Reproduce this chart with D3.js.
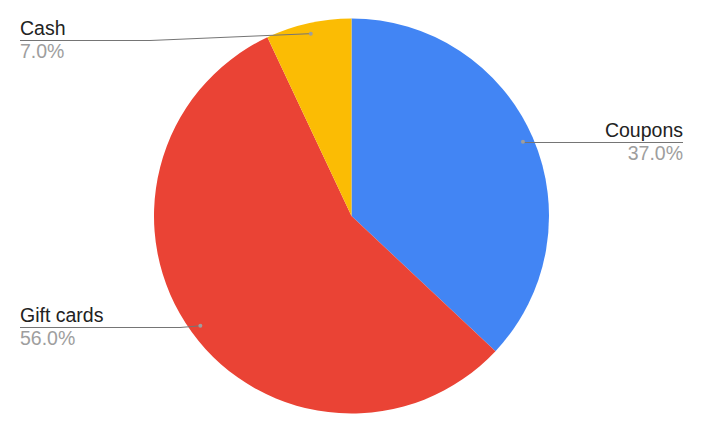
<!DOCTYPE html>
<html lang="en">
  <head>
    <meta charset="UTF-8" />
    <title>Pie chart</title>
    <script src="https://cdn.jsdelivr.net/npm/d3@7"></script>
    <style>
      body { margin: 0; background: #fff; }
      text { font-family: "Liberation Sans", Arial, sans-serif; }
    </style>
  </head>
  <body>
    <script>
      let categories = ["Coupons", "Gift cards", "Cash"];
      let values = [37, 56, 7];
      let colors = ["#4285f4", "#ea4335", "#fbbc04"];

      let width = 701, height = 435;
      let cx = 351.5, cy = 216, radius = 197.5;

      let svg = d3
        .select("body")
        .append("svg")
        .attr("width", width)
        .attr("height", height);

      let total = d3.sum(values);
      let pie = d3.pie().sort(null).value(function (d) { return d; });
      let arcs = pie(values);
      let arc = d3.arc().innerRadius(0).outerRadius(radius);
      let anchorArc = d3.arc().innerRadius(radius * 0.946).outerRadius(radius * 0.946);

      let g = svg.append("g").attr("transform", "translate(" + cx + "," + cy + ")");

      g.selectAll("path")
        .data(arcs)
        .enter()
        .append("path")
        .attr("d", arc)
        .attr("fill", function (d, i) { return colors[i]; });

      // label placement: line height and elbow for each slice
      let labelY = [142.5, 327.5, 40.5];
      let elbowX = [523, 180, 150];

      arcs.forEach(function (d, i) {
        let p = anchorArc.centroid(d);
        let ax = cx + p[0], ay = cy + p[1];
        let right = ax > cx;
        let endX = right ? 683 : 20;
        let ly = labelY[i];
        let pts = [[ax, ay], [elbowX[i], ly], [endX, ly]];
        svg.append("path")
          .attr("d", d3.line()(pts))
          .attr("fill", "none")
          .attr("stroke", "#757575")
          .attr("stroke-width", 1);
        svg.append("circle")
          .attr("cx", ax)
          .attr("cy", ay)
          .attr("r", 2)
          .attr("fill", "#9e9e9e");
        svg.append("text")
          .attr("x", endX)
          .attr("y", ly - 5.5)
          .attr("text-anchor", right ? "end" : "start")
          .attr("font-size", 19.5)
          .attr("fill", "#222")
          .text(categories[i]);
        svg.append("text")
          .attr("x", endX)
          .attr("y", ly + 17.5)
          .attr("text-anchor", right ? "end" : "start")
          .attr("font-size", 19.5)
          .attr("fill", "#9e9e9e")
          .text(d3.format(".1f")(values[i] / total * 100) + "%");
      });
    </script>
  </body>
</html>
